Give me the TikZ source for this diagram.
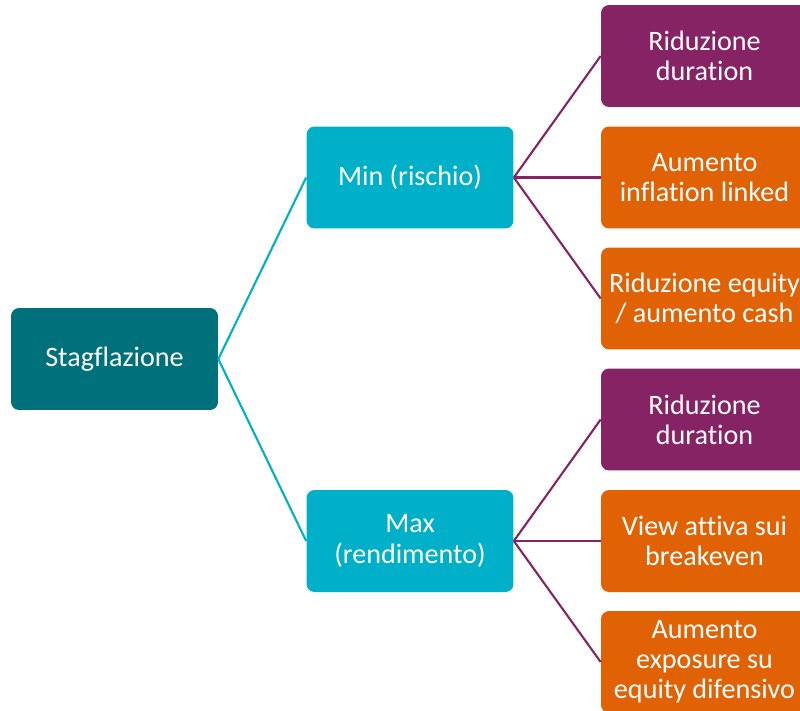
\documentclass[tikz,border=0pt]{standalone}
\usepackage{fontspec}
\setmainfont[Ligatures=NoCommon]{Carlito}

\definecolor{stagteal}{HTML}{00707A}
\definecolor{midcyan}{HTML}{00B0C8}
\definecolor{actpurple}{HTML}{862365}
\definecolor{actorange}{HTML}{E06205}

\begin{document}
\begin{tikzpicture}[x=0.02cm,y=-0.02cm,
  box/.style={rounded corners=0.16cm,minimum width=4.14cm,minimum height=2.04cm,
    text=white,align=center,font=\fontsize{16}{17.2}\selectfont,inner sep=0pt},
  rootbox/.style={box,fill=stagteal},
  midbox/.style={box,fill=midcyan},
  purplebox/.style={box,fill=actpurple},
  orangebox/.style={box,fill=actorange},
  tealline/.style={midcyan,line width=1.2pt},
  purpleline/.style={actpurple,line width=1.2pt}]

\clip (0,0) rectangle (800,710);
\fill [white] (0,0) rectangle (800,710);

\node [rootbox] (stag) at (114.5,359) {Stagflazione};

\node [midbox] (min) at (410,177.5) {Min (rischio)};
\node [midbox] (max) at (410,541) {Max\\(rendimento)};

\node [purplebox] (min1) at (704.5,56) {Riduzione\\duration};
\node [orangebox] (min2) at (704.5,177.5) {Aumento\\inflation linked};
\node [orangebox] (min3) at (704.5,298.5) {Riduzione equity\\/ aumento cash};

\node [purplebox] (max1) at (704.5,419.5) {Riduzione\\duration};
\node [orangebox] (max2) at (704.5,541) {View attiva sui\\breakeven};
\node [orangebox] (max3) at (704.5,662) {Aumento\\exposure su\\equity difensivo};

\draw [tealline] (min.west) -- (stag.east) -- (max.west);

\draw [purpleline] (min.east) -- (min1.west);
\draw [purpleline] (min.east) -- (min2.west);
\draw [purpleline] (min.east) -- (min3.west);

\draw [purpleline] (max.east) -- (max1.west);
\draw [purpleline] (max.east) -- (max2.west);
\draw [purpleline] (max.east) -- (max3.west);

\end{tikzpicture}
\end{document}
